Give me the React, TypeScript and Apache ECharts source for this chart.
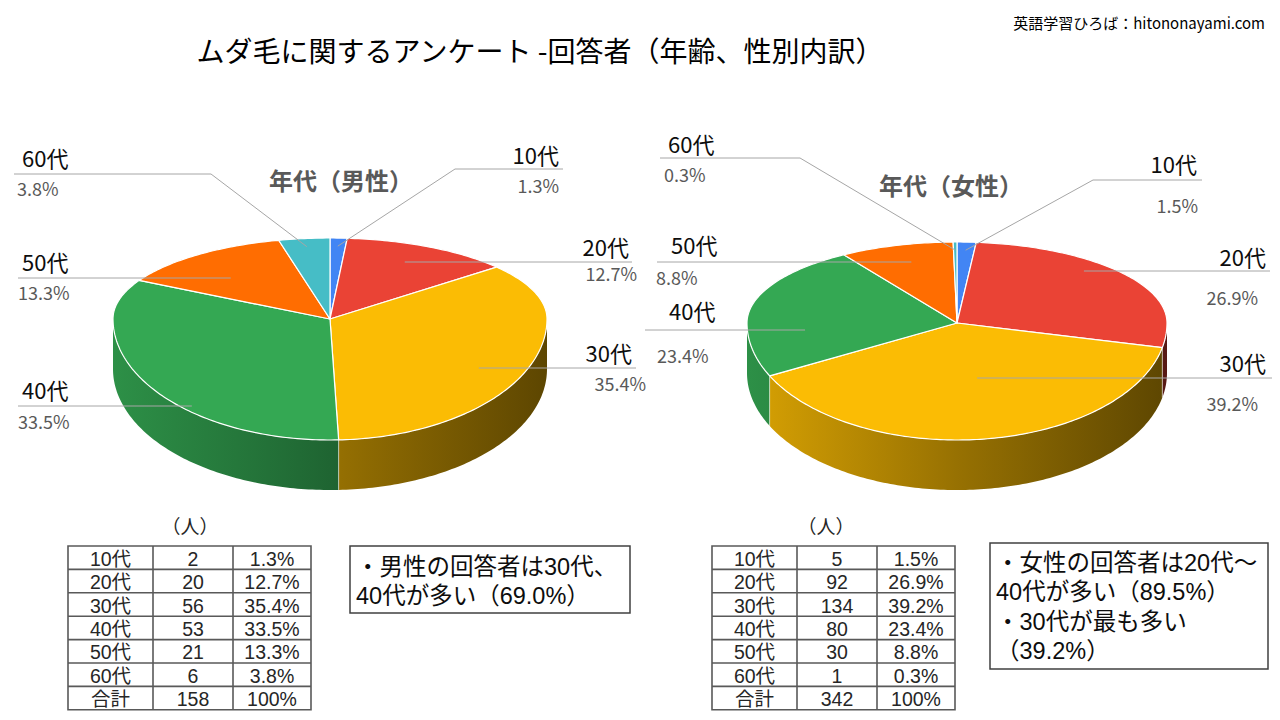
import React, { useEffect, useRef } from "react";
import * as echarts from "echarts";

// ---------------- data ----------------
const AGE_GROUPS = ["10代", "20代", "30代", "40代", "50代", "60代"];
const MALE_COUNTS = [2, 20, 56, 53, 21, 6];
const FEMALE_COUNTS = [5, 92, 134, 80, 30, 1];
const TOTAL_LABEL = "合計";
const UNIT_LABEL = "（人）";
const MAIN_TITLE = "ムダ毛に関するアンケート -回答者（年齢、性別内訳）";
const SITE_TEXT = "英語学習ひろば：hitononayami.com";
const MALE_TITLE = "年代（男性）";
const FEMALE_TITLE = "年代（女性）";
const MALE_NOTES = ["・男性の回答者は30代、", "40代が多い（69.0%）"];
const FEMALE_NOTES = ["・女性の回答者は20代～", "40代が多い（89.5%）", "・30代が最も多い", "（39.2%）"];

// ---------------- styles / layout ----------------
const SLICE_COLORS = ["#4285f4", "#ea4335", "#fbbc04", "#34a853", "#ff6d01", "#46bdc6"];
const FONT = '"Noto Sans CJK JP", "Noto Sans", sans-serif';
const TABLE_FONT = '"Liberation Sans", "Noto Sans CJK JP", sans-serif';

type LabelLayout = {
  dir: "L" | "R";
  lineY: number;
  farX: number;
  nearX?: number; // for diagonal leaders
  nameX: number;
  nameY: number;
  pctX: number;
  pctY: number;
};

const MALE_LABELS: LabelLayout[] = [
  { dir: "R", nearX: 455, lineY: 169, farX: 563, nameX: 559, nameY: 154, pctX: 559, pctY: 185 },
  { dir: "R", lineY: 262, farX: 632, nameX: 629, nameY: 246, pctX: 637, pctY: 273 },
  { dir: "R", lineY: 368, farX: 636, nameX: 632, nameY: 352, pctX: 646, pctY: 383 },
  { dir: "L", lineY: 406, farX: 18, nameX: 22, nameY: 389, pctX: 18, pctY: 421 },
  { dir: "L", lineY: 278, farX: 18, nameX: 22, nameY: 261, pctX: 18, pctY: 292 },
  { dir: "L", nearX: 211, lineY: 174, farX: 14, nameX: 22, nameY: 157, pctX: 17, pctY: 188 },
];

const FEMALE_LABELS: LabelLayout[] = [
  { dir: "R", nearX: 1093, lineY: 180, farX: 1202, nameX: 1197, nameY: 163, pctX: 1198, pctY: 205 },
  { dir: "R", lineY: 271, farX: 1270, nameX: 1266, nameY: 256, pctX: 1258, pctY: 297 },
  { dir: "R", lineY: 378, farX: 1272, nameX: 1266, nameY: 362, pctX: 1258, pctY: 403 },
  { dir: "L", lineY: 330, farX: 645, nameX: 669, nameY: 310, pctX: 657, pctY: 355 },
  { dir: "L", lineY: 262, farX: 657, nameX: 671, nameY: 244, pctX: 656, pctY: 277 },
  { dir: "L", nearX: 800, lineY: 158, farX: 660, nameX: 668, nameY: 143, pctX: 664, pctY: 174 },
];

type PieLayout = {
  counts: number[];
  title: string;
  titleX: number;
  titleY: number;
  cx: number;
  cy: number;
  rx: number;
  ryBack: number;
  ryFront: number;
  depth: number;
  labels: LabelLayout[];
  tableX: number;
  tableY: number;
  unitX: number;
  box: { x: number; y: number; w: number; h: number; textX: number; textY: number; lineH: number };
  notes: string[];
};

const PIES: PieLayout[] = [
  {
    counts: MALE_COUNTS,
    title: MALE_TITLE,
    titleX: 341,
    titleY: 179,
    cx: 330,
    cy: 319,
    rx: 217,
    ryBack: 81,
    ryFront: 121,
    depth: 50,
    labels: MALE_LABELS,
    tableX: 68,
    tableY: 546,
    unitX: 190,
    box: { x: 350, y: 546, w: 280, h: 67, textX: 356, textY: 567, lineH: 29 },
    notes: MALE_NOTES,
  },
  {
    counts: FEMALE_COUNTS,
    title: FEMALE_TITLE,
    titleX: 951,
    titleY: 184,
    cx: 957,
    cy: 323,
    rx: 210,
    ryBack: 81,
    ryFront: 117,
    depth: 50,
    labels: FEMALE_LABELS,
    tableX: 712,
    tableY: 546,
    unitX: 826,
    box: { x: 990, y: 543, w: 278, h: 126, textX: 996, textY: 563, lineH: 29.3 },
    notes: FEMALE_NOTES,
  },
];

const COL_W = [85, 80, 78];
const ROW_H = 23.4;

// ---------------- helpers ----------------
function shade(hex: string, k: number): string {
  const n = parseInt(hex.slice(1), 16);
  const r = Math.round(((n >> 16) & 255) * k);
  const g = Math.round(((n >> 8) & 255) * k);
  const b = Math.round((n & 255) * k);
  return `rgb(${r},${g},${b})`;
}

function pctText(v: number, total: number): string {
  return ((v / total) * 100).toFixed(1) + "%";
}

function makePt(p: PieLayout) {
  return (a: number, f: number): [number, number] => {
    const c = Math.cos(a);
    const ry = c > 0 ? p.ryBack : p.ryFront;
    return [p.cx + p.rx * f * Math.sin(a), p.cy - ry * f * c];
  };
}

function arcPts(pt: (a: number, f: number) => [number, number], a0: number, a1: number, dy = 0) {
  const n = Math.max(2, Math.ceil((a1 - a0) / (Math.PI / 180)));
  const out: [number, number][] = [];
  for (let k = 0; k <= n; k++) {
    const a = a0 + ((a1 - a0) * k) / n;
    const q = pt(a, 1);
    out.push([q[0], q[1] + dy]);
  }
  return out;
}

function buildPieSeries(p: PieLayout) {
  const total = p.counts.reduce((s, v) => s + v, 0);
  const pt = makePt(p);
  return {
    type: "custom",
    coordinateSystem: "none",
    silent: true,
    z: 2,
    data: p.counts.map((v, i) => ({ name: AGE_GROUPS[i], value: v })),
    renderItem: (params: any, api: any) => {
      const i = params.dataIndex;
      const v = api.value(0);
      let before = 0;
      for (let k = 0; k < i; k++) before += p.counts[k];
      const a0 = (before / total) * Math.PI * 2;
      const a1 = ((before + v) / total) * Math.PI * 2;
      const color = SLICE_COLORS[i % SLICE_COLORS.length];
      const children: any[] = [];
      const s = Math.max(a0, Math.PI / 2);
      const e = Math.min(a1, (Math.PI * 3) / 2);
      if (e > s) {
        const topArc = arcPts(pt, s, e);
        const botArc = arcPts(pt, s, e, p.depth).reverse();
        children.push({
          type: "polygon",
          shape: { points: topArc.concat(botArc) },
          style: {
            fill: {
              type: "linear",
              x: p.cx - p.rx,
              y: 0,
              x2: p.cx + p.rx,
              y2: 0,
              global: true,
              colorStops: [
                { offset: 0, color: shade(color, 0.86) },
                { offset: 0.5, color: shade(color, 0.6) },
                { offset: 1, color: shade(color, 0.37) },
              ],
            },
            stroke: null,
          },
        });
        if (a0 > Math.PI / 2 && a0 < (Math.PI * 3) / 2) {
          const q = pt(a0, 1);
          children.push({
            type: "line",
            shape: { x1: q[0], y1: q[1], x2: q[0], y2: q[1] + p.depth },
            style: { stroke: "rgba(255,255,255,0.55)", lineWidth: 1 },
          });
        }
      }
      const top: [number, number][] = [[p.cx, p.cy]].concat(arcPts(pt, a0, a1)) as any;
      children.push({
        type: "polygon",
        shape: { points: top },
        style: { fill: color, stroke: "#ffffff", lineWidth: 1.2, lineJoin: "round" },
      });
      return { type: "group", children };
    },
  };
}

function txt(x: number, y: number, text: string, o: any = {}) {
  return {
    type: "text",
    x,
    y,
    z: 100,
    silent: true,
    style: {
      text,
      fill: o.fill || "#000000",
      fontSize: o.fontSize || 20,
      fontFamily: o.fontFamily || FONT,
      fontWeight: o.fontWeight || "normal",
      lineHeight: o.lineHeight,
      align: o.align || "left",
      verticalAlign: o.verticalAlign || "middle",
    },
  };
}

function buildGraphics(): any[] {
  const els: any[] = [];
  els.push(txt(540, 50, MAIN_TITLE, { fontSize: 28, align: "center" }));
  els.push(txt(1265, 22, SITE_TEXT, { fontSize: 15, align: "right" }));

  PIES.forEach((p) => {
    const total = p.counts.reduce((s, v) => s + v, 0);
    const pt = makePt(p);
    els.push(txt(p.titleX, p.titleY, p.title, { fontSize: 24, fontWeight: "bold", fill: "#595959", align: "center" }));

    // labels and leader lines
    let before = 0;
    p.counts.forEach((v, i) => {
      const mid = ((before + v / 2) / total) * Math.PI * 2;
      before += v;
      const L = p.labels[i];
      const lineStyle = { stroke: "#a6a6a6", lineWidth: 1 };
      if (L.nearX !== undefined) {
        const a = pt(mid, 0.9);
        els.push({
          type: "polyline",
          z: 90,
          silent: true,
          shape: { points: [a, [L.nearX, L.lineY], [L.farX, L.lineY]] },
          style: { ...lineStyle, fill: null },
        });
      } else {
        const a = pt(mid, 0.75);
        els.push({
          type: "line",
          z: 90,
          silent: true,
          shape: { x1: a[0], y1: L.lineY, x2: L.farX, y2: L.lineY },
          style: lineStyle,
        });
      }
      const align = L.dir === "R" ? "right" : "left";
      els.push(txt(L.nameX, L.nameY, AGE_GROUPS[i], { fontSize: 22, align, fill: "#0d0d0d" }));
      els.push(txt(L.pctX, L.pctY, pctText(v, total), { fontSize: 18, align, fill: "#595959" }));
    });

    // unit label
    els.push(txt(p.unitX, p.tableY - 21, UNIT_LABEL, { fontSize: 19, align: "center", fill: "#262626" }));

    // table
    const rows: string[][] = p.counts.map((v, i) => [AGE_GROUPS[i], String(v), pctText(v, total)]);
    rows.push([TOTAL_LABEL, String(total), "100%"]);
    const tw = COL_W.reduce((s, w) => s + w, 0);
    const th = ROW_H * rows.length;
    els.push({
      type: "rect",
      z: 80,
      silent: true,
      shape: { x: p.tableX, y: p.tableY, width: tw, height: th },
      style: { fill: "#ffffff", stroke: "#595959", lineWidth: 1.6 },
    });
    for (let r = 1; r < rows.length; r++) {
      const y = p.tableY + r * ROW_H;
      els.push({
        type: "line",
        z: 81,
        silent: true,
        shape: { x1: p.tableX, y1: y, x2: p.tableX + tw, y2: y },
        style: { stroke: "#595959", lineWidth: 1.6 },
      });
    }
    let cx = p.tableX;
    for (let c = 0; c < COL_W.length - 1; c++) {
      cx += COL_W[c];
      els.push({
        type: "line",
        z: 81,
        silent: true,
        shape: { x1: cx, y1: p.tableY, x2: cx, y2: p.tableY + th },
        style: { stroke: "#595959", lineWidth: 1.6 },
      });
    }
    // one multi-line text per column
    let x = p.tableX;
    COL_W.forEach((w, c) => {
      const colText = rows.map((row) => row[c]).join("\n");
      els.push(
        txt(x + w / 2, p.tableY + 1, colText, {
          fontSize: 19.5,
          align: "center",
          verticalAlign: "top",
          lineHeight: ROW_H,
          fill: "#262626",
          fontFamily: TABLE_FONT,
        })
      );
      x += w;
    });

    // note box
    const b = p.box;
    els.push({
      type: "rect",
      z: 80,
      silent: true,
      shape: { x: b.x, y: b.y, width: b.w, height: b.h },
      style: { fill: "#ffffff", stroke: "#404040", lineWidth: 1.5 },
    });
    els.push(
      txt(b.textX, b.textY - b.lineH / 2, p.notes.join("\n"), {
        fontSize: 23.5,
        fill: "#0d0d0d",
        verticalAlign: "top",
        lineHeight: b.lineH,
        fontFamily: TABLE_FONT,
      })
    );
  });
  return els;
}

export default function App() {
  const ref = useRef<HTMLDivElement>(null);
  useEffect(() => {
    if (!ref.current) return;
    const chart = echarts.init(ref.current, undefined, { renderer: "svg" });
    chart.setOption({
      animation: false,
      backgroundColor: "#ffffff",
      series: PIES.map(buildPieSeries),
      graphic: { elements: buildGraphics() },
    } as any);
    return () => chart.dispose();
  }, []);
  return (
    <div
      ref={ref}
      style={{ position: "absolute", left: 0, top: 0, width: 1280, height: 720, background: "#fff" }}
    />
  );
}
